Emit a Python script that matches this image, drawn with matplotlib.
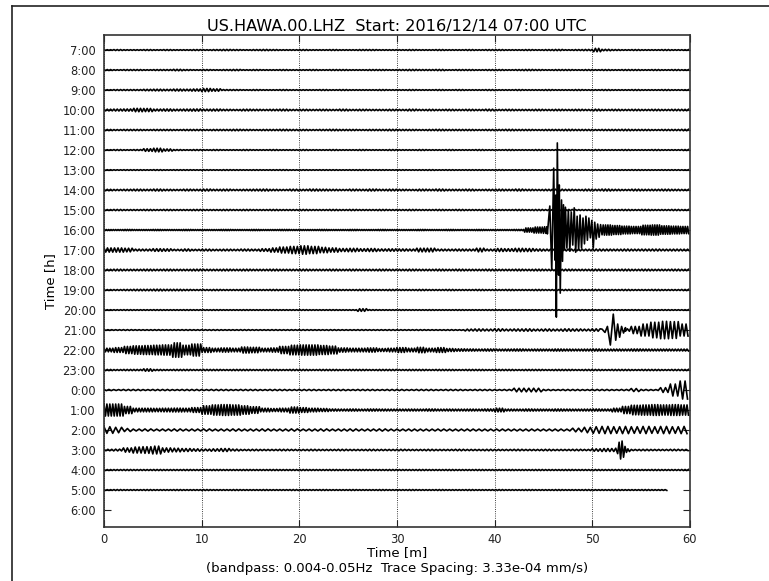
import numpy as np
import matplotlib
matplotlib.use('Agg')
import matplotlib.pyplot as plt
from matplotlib.lines import Line2D

# Station / filter info
STATION = 'US.HAWA.00.LHZ'
START = '2016/12/14 07:00 UTC'
BANDPASS = '0.004-0.05Hz'
TRACE_SPACING = 3.33e-04   # mm/s between neighbouring hourly traces

HOURS = ['7:00', '8:00', '9:00', '10:00', '11:00', '12:00', '13:00', '14:00',
         '15:00', '16:00', '17:00', '18:00', '19:00', '20:00', '21:00', '22:00',
         '23:00', '0:00', '1:00', '2:00', '3:00', '4:00', '5:00', '6:00']

# Half period of the dominant wiggle in each hour (minutes)
HALF_PERIOD = [0.17, 0.17, 0.17, 0.17, 0.17, 0.17, 0.17, 0.17,
               0.17, 0.12, 0.18, 0.17, 0.17, 0.17, 0.2, 0.15,
               0.17, 0.25, 0.15, 0.3, 0.2, 0.17, 0.17, 0.17]

# Minute at which each hourly trace ends (last hour has no data)
TRACE_END = [60, 60, 60, 60, 60, 60, 60, 60,
             60, 60, 60, 60, 60, 60, 60, 60,
             60, 60, 60, 60, 60, 60, 57.7, 0]

# Envelope of ground velocity, one value per minute (nm/s)
env_07 = [6, 8, 6, 6, 8, 6, 8, 6, 6, 8,
          6, 8, 10, 8, 6, 8, 10, 8, 6, 6,
          8, 6, 6, 8, 6, 6, 8, 8, 6, 6,
          6, 8, 6, 6, 8, 6, 6, 8, 6, 8,
          8, 6, 6, 8, 6, 8, 10, 6, 8, 10,
          28, 12, 8, 6, 8, 6, 6, 8, 6, 6]
env_08 = [8, 6, 8, 8, 6, 8, 8, 12, 8, 6,
          8, 6, 8, 10, 6, 8, 6, 6, 8, 6,
          6, 8, 6, 8, 8, 6, 6, 8, 8, 6,
          8, 10, 8, 8, 10, 6, 8, 8, 6, 8,
          8, 6, 8, 10, 8, 6, 8, 8, 6, 8,
          6, 8, 6, 8, 8, 6, 8, 6, 8, 6]
env_09 = [6, 8, 8, 8, 12, 14, 12, 16, 14, 18,
          26, 20, 8, 8, 6, 8, 6, 6, 8, 6,
          6, 6, 8, 6, 8, 6, 6, 6, 8, 6,
          6, 8, 6, 6, 8, 6, 8, 6, 6, 8,
          6, 6, 8, 6, 6, 8, 6, 6, 8, 6,
          6, 8, 6, 6, 8, 6, 6, 8, 6, 6]
env_10 = [14, 16, 18, 28, 26, 16, 18, 14, 16, 18,
          14, 16, 12, 10, 14, 12, 10, 12, 14, 10,
          12, 10, 12, 10, 14, 10, 12, 10, 10, 12,
          10, 14, 10, 12, 10, 12, 10, 12, 10, 14,
          10, 12, 10, 10, 12, 10, 12, 10, 12, 10,
          14, 10, 12, 10, 12, 10, 12, 10, 12, 12]
env_11 = [10, 8, 10, 10, 8, 10, 10, 8, 10, 10,
          8, 10, 10, 12, 10, 8, 10, 10, 12, 10,
          10, 8, 10, 12, 10, 10, 8, 10, 10, 12,
          10, 10, 8, 10, 12, 10, 10, 10, 8, 10,
          10, 12, 10, 10, 8, 10, 10, 12, 10, 10,
          8, 10, 10, 12, 10, 10, 8, 10, 10, 12]
env_12 = [6, 8, 6, 8, 22, 30, 18, 8, 6, 8,
          6, 8, 6, 6, 8, 6, 6, 8, 6, 6,
          8, 6, 6, 8, 6, 6, 8, 6, 6, 8,
          6, 6, 8, 6, 6, 8, 6, 6, 8, 6,
          6, 8, 6, 6, 8, 6, 6, 8, 6, 6,
          8, 6, 6, 8, 6, 6, 8, 6, 6, 8]
env_13 = [6, 5, 6, 6, 5, 7, 5, 6, 6, 5,
          6, 5, 7, 6, 5, 6, 5, 6, 7, 5,
          6, 5, 6, 6, 5, 6, 7, 6, 6, 5,
          6, 5, 6, 7, 5, 6, 5, 6, 6, 5,
          7, 5, 6, 6, 5, 6, 5, 7, 6, 5,
          6, 5, 6, 6, 7, 6, 5, 6, 6, 5]
env_14 = [12, 10, 12, 14, 12, 16, 12, 10, 14, 12,
          16, 12, 14, 10, 12, 14, 16, 12, 10, 14,
          12, 16, 14, 12, 10, 14, 12, 16, 12, 14,
          12, 10, 14, 12, 16, 12, 12, 14, 10, 12,
          14, 12, 16, 12, 10, 12, 14, 12, 10, 14,
          12, 16, 12, 10, 14, 12, 12, 14, 12, 10]
env_15 = [8, 10, 8, 8, 10, 8, 10, 8, 8, 10,
          8, 8, 10, 8, 10, 8, 8, 10, 8, 8,
          10, 8, 8, 10, 8, 10, 8, 8, 10, 8,
          8, 10, 8, 8, 10, 8, 10, 8, 8, 10,
          8, 8, 10, 8, 10, 8, 8, 10, 8, 8,
          10, 8, 8, 10, 8, 10, 8, 8, 10, 8]
env_16 = [8, 8, 10, 8, 8, 10, 8, 8, 10, 8,
          8, 8, 10, 8, 8, 10, 8, 8, 10, 8,
          8, 8, 10, 8, 8, 10, 8, 8, 10, 8,
          8, 8, 10, 8, 8, 10, 8, 8, 10, 8,
          8, 8, 10, 35, 50, 55, 60, 60, 60, 60,
          60, 85, 75, 65, 60, 80, 85, 70, 65, 60]
env_17 = [35, 35, 30, 15, 15, 22, 20, 12, 18, 12,
          15, 12, 14, 12, 16, 14, 22, 35, 50, 60,
          70, 60, 45, 35, 25, 28, 22, 25, 18, 20,
          18, 16, 30, 30, 15, 14, 16, 15, 30, 15,
          25, 22, 28, 25, 18, 15, 14, 16, 15, 14,
          16, 15, 14, 16, 14, 15, 16, 14, 15, 14]
env_18 = [12, 14, 12, 12, 14, 12, 14, 12, 12, 14,
          12, 12, 14, 12, 14, 12, 12, 14, 12, 12,
          14, 12, 12, 14, 12, 14, 12, 12, 14, 12,
          12, 14, 12, 12, 14, 12, 14, 12, 12, 14,
          12, 12, 14, 12, 14, 12, 12, 14, 12, 12,
          14, 12, 12, 14, 12, 14, 12, 12, 14, 12]
env_19 = [8, 8, 10, 12, 12, 14, 12, 12, 10, 8,
          8, 10, 8, 8, 10, 8, 8, 10, 8, 8,
          10, 8, 8, 10, 8, 8, 10, 8, 8, 10,
          8, 8, 10, 8, 8, 10, 8, 8, 10, 8,
          8, 10, 8, 8, 10, 8, 8, 10, 8, 8,
          10, 8, 8, 10, 8, 8, 10, 8, 8, 10]
env_20 = [6, 6, 7, 6, 6, 7, 6, 6, 7, 6,
          6, 7, 6, 6, 7, 6, 6, 7, 6, 6,
          7, 6, 6, 7, 6, 6, 22, 7, 6, 6,
          7, 6, 6, 7, 6, 6, 7, 6, 6, 7,
          6, 6, 7, 6, 6, 7, 6, 6, 7, 6,
          6, 7, 6, 6, 7, 6, 6, 7, 6, 6]
env_21 = [6, 6, 7, 6, 6, 7, 6, 6, 7, 6,
          6, 7, 6, 6, 7, 6, 6, 7, 6, 6,
          7, 6, 6, 7, 6, 6, 7, 6, 6, 7,
          6, 6, 7, 6, 6, 7, 6, 15, 18, 15,
          20, 15, 18, 20, 15, 18, 15, 20, 18, 15,
          20, 20, 20, 20, 60, 100, 130, 145, 140, 100]
env_22 = [30, 40, 60, 70, 75, 80, 85, 120, 80, 100,
          40, 30, 35, 30, 50, 45, 30, 35, 60, 80,
          85, 85, 75, 65, 35, 30, 30, 35, 25, 30,
          40, 30, 45, 30, 40, 25, 20, 18, 16, 18,
          15, 16, 18, 15, 16, 15, 18, 16, 15, 16,
          18, 15, 16, 15, 18, 16, 15, 16, 15, 16]
env_23 = [10, 8, 10, 10, 20, 10, 8, 10, 10, 8,
          10, 10, 8, 10, 10, 8, 10, 10, 8, 10,
          10, 8, 10, 10, 8, 10, 10, 8, 10, 10,
          8, 10, 10, 8, 10, 10, 8, 10, 10, 8,
          10, 10, 8, 10, 10, 8, 10, 10, 8, 10,
          10, 8, 10, 10, 8, 10, 10, 8, 10, 10]
env_00 = [10, 8, 10, 10, 8, 10, 10, 8, 10, 10,
          8, 10, 10, 8, 10, 10, 8, 10, 10, 8,
          10, 10, 8, 10, 10, 8, 10, 10, 8, 10,
          10, 8, 10, 10, 8, 10, 10, 8, 10, 10,
          8, 10, 30, 30, 30, 10, 8, 10, 10, 8,
          10, 10, 8, 10, 25, 10, 8, 40, 100, 150]
env_01 = [100, 100, 60, 30, 30, 28, 30, 32, 30, 40,
          70, 85, 90, 85, 70, 55, 30, 25, 30, 50,
          40, 30, 25, 18, 16, 18, 15, 18, 16, 15,
          15, 16, 15, 18, 15, 16, 15, 16, 15, 18,
          30, 16, 15, 18, 16, 15, 18, 16, 15, 16,
          18, 16, 30, 60, 80, 85, 90, 85, 90, 85]
env_02 = [55, 45, 25, 16, 18, 15, 16, 18, 15, 16,
          18, 15, 16, 18, 15, 16, 18, 15, 16, 18,
          15, 16, 18, 15, 16, 18, 15, 16, 18, 15,
          15, 16, 15, 15, 16, 15, 15, 16, 15, 15,
          16, 15, 15, 16, 15, 15, 16, 15, 30, 45,
          55, 60, 55, 60, 55, 60, 55, 60, 55, 60]
env_03 = [12, 15, 35, 50, 55, 65, 35, 30, 25, 20,
          15, 20, 25, 15, 10, 12, 10, 10, 12, 10,
          10, 12, 10, 10, 12, 10, 10, 12, 10, 10,
          12, 10, 10, 12, 10, 10, 12, 10, 10, 12,
          10, 10, 12, 10, 10, 12, 10, 10, 12, 10,
          20, 25, 25, 25, 10, 12, 10, 10, 12, 10]
env_04 = [8, 8, 9, 8, 8, 9, 8, 8, 9, 8,
          8, 9, 8, 8, 9, 8, 8, 9, 8, 8,
          9, 8, 8, 9, 8, 8, 9, 8, 8, 9,
          8, 8, 9, 8, 8, 9, 8, 8, 9, 8,
          8, 9, 8, 8, 9, 8, 8, 9, 8, 8,
          9, 8, 8, 9, 8, 8, 9, 8, 8, 9]
env_05 = [7, 8, 7, 7, 8, 7, 7, 8, 7, 7,
          8, 7, 7, 8, 7, 7, 8, 7, 7, 8,
          7, 7, 8, 7, 7, 8, 7, 7, 8, 7,
          7, 8, 7, 7, 8, 7, 7, 8, 7, 7,
          8, 7, 7, 8, 7, 7, 8, 7, 7, 8,
          7, 7, 8, 7, 7, 8, 7, 7, 8, 7]
env_06 = []

envelopes = [env_07, env_08, env_09, env_10, env_11, env_12, env_13, env_14,
             env_15, env_16, env_17, env_18, env_19, env_20, env_21, env_22,
             env_23, env_00, env_01, env_02, env_03, env_04, env_05, env_06]

# Individual swings of the large arrivals (minute, nm/s)
ev16_min = [45.40, 45.65, 45.85, 46.05, 46.18, 46.25, 46.32, 46.42, 46.55, 46.62,
            46.72, 46.85, 46.95, 47.05, 47.15, 47.25, 47.40, 47.55, 47.70, 47.85,
            48.00, 48.15, 48.30, 48.45, 48.60, 48.75, 48.90, 49.05, 49.20, 49.35,
            49.50, 49.65, 49.80, 49.95, 50.10, 50.25, 50.40, 50.55, 50.70, 50.85, 51.00]
ev16_amp = [-65, 400, -665, 1030, -500, 580, -1450, 1450, -750, 750,
            -1050, 500, -520, 420, -330, 380, -300, 330, -350, 300,
            -250, 370, -370, 230, -330, 250, -300, 200, -230, 230,
            -170, 200, -130, 160, -300, 130, -150, 100, -120, 90, -80]
ev21_min = [51.0, 51.3, 51.55, 51.85, 52.15, 52.4, 52.6, 52.8, 53.0, 53.2, 53.4]
ev21_amp = [15, -40, 60, -250, 265, -170, 100, -120, 60, -50, 40]
ev03_min = [52.4, 52.6, 52.75, 52.9, 53.05, 53.2, 53.35, 53.5, 53.65]
ev03_amp = [30, -60, 130, -150, 150, -120, 60, -40, 20]

events = {'16:00': (ev16_min, ev16_amp),
          '21:00': (ev21_min, ev21_amp),
          '3:00': (ev03_min, ev03_amp)}


# Builds one hourly trace as a zigzag through the envelope
def build_trace(env, half_period, end, event):
    t = np.arange(0, end, half_period)
    idx = np.clip(t.astype(int), 0, len(env) - 1)
    amp = np.array(env, dtype=float)[idx]
    sign = np.where(np.arange(len(t)) % 2 == 0, 1.0, -1.0)
    v = amp * sign
    if event is not None:
        ev_t = np.array(event[0])
        ev_v = np.array(event[1], dtype=float)
        keep = (t < ev_t[0]) | (t > ev_t[-1])
        t = np.concatenate([t[keep], ev_t])
        v = np.concatenate([v[keep], ev_v])
        order = np.argsort(t)
        t, v = t[order], v[order]
    return t, v


fig = plt.figure(figsize=(7.69, 5.81), dpi=100)
fig.patch.set_facecolor('white')
ax = fig.add_axes([0.1352, 0.0929, 0.7620, 0.8468])

spacing_nm = TRACE_SPACING * 1e6
for i, hour in enumerate(HOURS):
    if TRACE_END[i] <= 0:
        continue
    t, v = build_trace(envelopes[i], HALF_PERIOD[i], TRACE_END[i], events.get(hour))
    ax.plot(t, -i + v / spacing_nm, color='k', lw=1.2)

ax.set_xlim(0, 60)
ax.set_ylim(-len(HOURS) + 0.15, 0.75)
ax.set_xticks(np.arange(0, 61, 10))
ax.set_yticks(-np.arange(len(HOURS)))
ax.set_yticklabels(HOURS)
ax.tick_params(direction='in', top=True, right=True, length=5, width=0.8,
               labelsize=8.3, colors='#222222')
ax.tick_params(axis='y', pad=6)
ax.tick_params(axis='x', pad=4)
ax.xaxis.grid(True, linestyle=':', color='k', lw=0.6)
ax.set_axisbelow(True)
for sp in ax.spines.values():
    sp.set_linewidth(1.2)
    sp.set_color('#333333')

ax.set_title(f'{STATION}  Start: {START}', fontsize=11.6, pad=3)
ax.set_ylabel('Time [h]', fontsize=9.5, labelpad=4)
ax.set_xlabel(f'Time [m]\n(bandpass: {BANDPASS}  Trace Spacing: {TRACE_SPACING:.2e} mm/s)',
              fontsize=9.5, labelpad=0, linespacing=1.35)

# outline of the window
fig.add_artist(Line2D([12 / 769, 1], [1 - 6 / 581, 1 - 6 / 581], color='#222222', lw=1.2))
fig.add_artist(Line2D([12 / 769, 12 / 769], [0, 1 - 6 / 581], color='#222222', lw=1.2))

fig.savefig('out.png', dpi=100)
